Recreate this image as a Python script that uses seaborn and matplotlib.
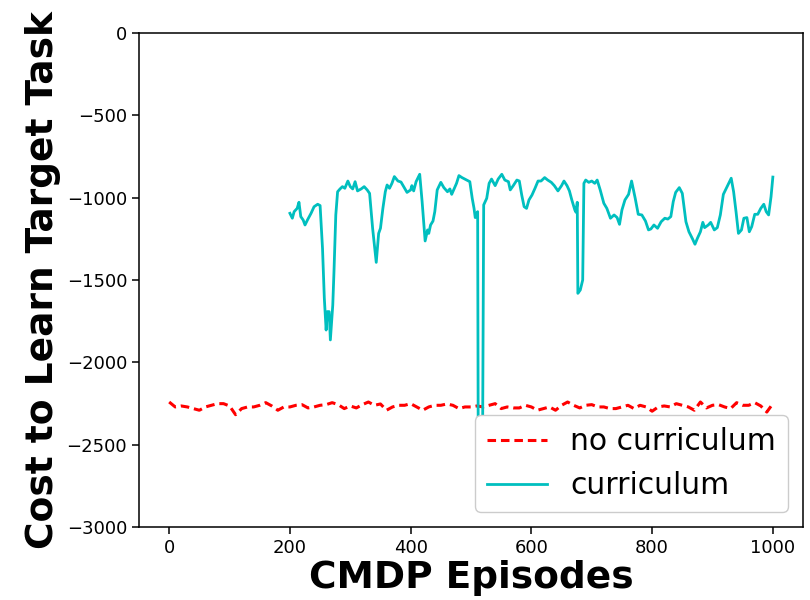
import matplotlib
matplotlib.use("Agg")
import matplotlib.pyplot as plt
import pandas as pd
import seaborn as sns

# no curriculum run, every 10 episodes
base_x = list(range(0, 1001, 10))
base_y = [-2241, -2271, -2265, -2271, -2281, -2291, -2271, -2261, -2251, -2251,
          -2265, -2318, -2281, -2271, -2271, -2261, -2245, -2265, -2291, -2271,
          -2271, -2261, -2257, -2277, -2271, -2261, -2257, -2245, -2257, -2281,
          -2265, -2277, -2257, -2241, -2261, -2253, -2291, -2271, -2261, -2261,
          -2251, -2271, -2291, -2271, -2261, -2261, -2253, -2261, -2281, -2271,
          -2271, -2265, -2271, -2261, -2251, -2281, -2271, -2277, -2277, -2261,
          -2271, -2291, -2281, -2271, -2291, -2261, -2241, -2261, -2277, -2261,
          -2257, -2271, -2271, -2281, -2281, -2271, -2261, -2281, -2261, -2271,
          -2297, -2271, -2265, -2271, -2251, -2261, -2271, -2291, -2241, -2277,
          -2261, -2257, -2271, -2281, -2245, -2261, -2261, -2245, -2265, -2302,
          -2251]

# curriculum run, starts at episode 200
cur_x = [200, 204, 207, 212, 215, 218, 222, 225, 229, 235, 240, 246, 250, 254, 257,
         260, 262, 265, 267, 271, 273, 276, 279, 283, 287, 291, 296, 300, 304, 308,
         312, 318, 323, 328, 332, 337, 343, 347, 350, 354, 358, 361, 365, 369, 373,
         379, 384, 390, 394, 400, 402, 405, 409, 415, 419, 424, 428, 430, 433, 437,
         440, 444, 450, 455, 461, 465, 468, 472, 476, 480, 485, 493, 498, 502, 505,
         507, 511, 512, 519, 521, 526, 530, 534, 540, 545, 551, 556, 562, 565, 570,
         576, 580, 584, 588, 592, 596, 601, 606, 611, 616, 622, 627, 633, 638, 644,
         650, 654, 659, 663, 667, 672, 674, 676, 677, 681, 685, 687, 690, 695, 700,
         705, 709, 714, 720, 725, 731, 737, 742, 746, 750, 755, 761, 766, 772, 777,
         783, 789, 794, 798, 803, 809, 815, 821, 826, 831, 835, 839, 845, 850, 856,
         861, 867, 871, 875, 880, 884, 887, 893, 897, 903, 908, 913, 918, 925, 931,
         935, 939, 943, 948, 952, 957, 961, 965, 970, 975, 980, 985, 989, 993, 997,
         1000]
cur_y = [-1095, -1125, -1085, -1065, -1028, -1115, -1136, -1166, -1136, -1095, -1055, -1040, -1048, -1308, -1611,
         -1804, -1692, -1692, -1864, -1652, -1449, -1105, -964, -947, -933, -943, -899, -933, -947, -903,
         -959, -947, -933, -953, -974, -1186, -1393, -1217, -1186, -1065, -964, -923, -943, -913, -872,
         -899, -905, -943, -968, -953, -927, -959, -903, -858, -1024, -1263, -1196, -1217, -1166, -1142,
         -1085, -953, -907, -939, -964, -947, -980, -947, -913, -866, -878, -893, -903, -1004, -1065,
         -1121, -1085, -2600, -2600, -1044, -1004, -913, -887, -927, -887, -858, -893, -903, -953, -927,
         -893, -899, -984, -1055, -1065, -1014, -984, -943, -899, -899, -878, -893, -907, -927, -959,
         -927, -899, -927, -959, -1014, -1075, -1089, -1028, -1581, -1561, -1500, -913, -893, -907, -899,
         -913, -893, -953, -1034, -1065, -1125, -1105, -1121, -1162, -1075, -1014, -980, -899, -1004, -1101,
         -1105, -1142, -1196, -1190, -1166, -1186, -1146, -1125, -1130, -1115, -1024, -968, -939, -974, -1146,
         -1207, -1251, -1283, -1247, -1207, -1150, -1182, -1166, -1150, -1196, -1182, -1105, -980, -927, -882,
         -964, -1085, -1217, -1196, -1125, -1121, -1207, -1176, -1101, -1101, -1065, -1040, -1085, -1105, -994,
         -875]

base_df = pd.DataFrame({'episode': base_x, 'cost': base_y})
cur_df = pd.DataFrame({'episode': cur_x, 'cost': cur_y})

fig, ax = plt.subplots(figsize=(8.1, 6), dpi=100)
fig.subplots_adjust(left=0.1716, right=0.9914, top=0.945, bottom=0.1217)

sns.lineplot(data=base_df, x='episode', y='cost', ax=ax, color='r', linestyle='--',
             linewidth=2.2, label='no curriculum')
sns.lineplot(data=cur_df, x='episode', y='cost', ax=ax, color='c',
             linewidth=2, label='curriculum')
# shorter dashes like the original
ax.lines[0].set_dashes((2.8, 1.6))

ax.set_ylim(-3000, 0)
ax.set_xticks([0, 200, 400, 600, 800, 1000])
ax.set_xlabel('CMDP Episodes', fontsize=27, fontweight='bold', labelpad=2)
ax.set_ylabel('Cost to Learn Target Task', fontsize=27, fontweight='bold', labelpad=4)
ax.tick_params(labelsize=13, length=5, width=1.1)
for s in ax.spines.values():
    s.set_linewidth(1.1)

ax.legend(loc='lower right', fontsize=21.5, framealpha=1)

fig.savefig('out.png', dpi=100)
